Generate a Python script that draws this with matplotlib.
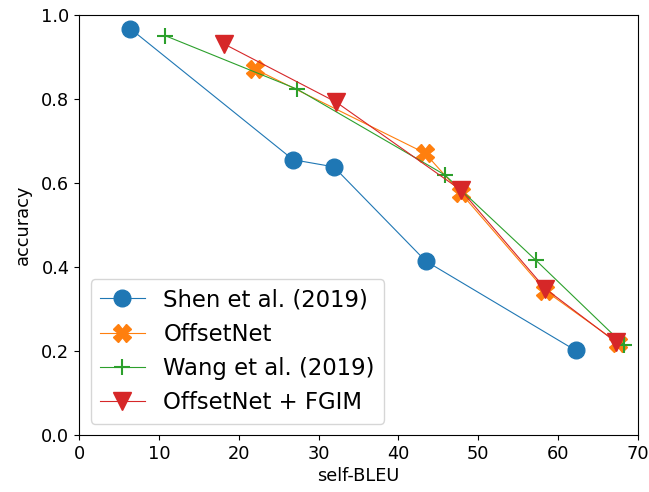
import matplotlib
matplotlib.use('Agg')
import matplotlib.pyplot as plt

# self-BLEU vs. accuracy for each method
shen_bleu = [6.4, 26.8, 31.9, 43.4, 62.2]
shen_acc = [0.967, 0.655, 0.638, 0.414, 0.201]

offset_bleu = [22.0, 43.3, 47.8, 58.4, 67.5]
offset_acc = [0.871, 0.671, 0.576, 0.343, 0.219]

wang_bleu = [10.8, 27.3, 45.8, 57.2, 68.3]
wang_acc = [0.950, 0.823, 0.619, 0.416, 0.213]

fgim_bleu = [18.1, 32.2, 47.8, 58.4, 67.3]
fgim_acc = [0.931, 0.792, 0.583, 0.348, 0.220]

fig, ax = plt.subplots(figsize=(6.49, 4.92), dpi=100)
fig.subplots_adjust(left=0.122, right=0.983, top=0.970, bottom=0.116)

ax.plot(shen_bleu, shen_acc, marker='o', markersize=12, linewidth=0.8,
        color='tab:blue', label='Shen et al. (2019)')
ax.plot(offset_bleu, offset_acc, marker='X', markersize=12.5, linewidth=0.8,
        color='tab:orange', label='OffsetNet')
ax.plot(wang_bleu, wang_acc, marker='+', markersize=11, markeredgewidth=1.5,
        linewidth=0.8, color='tab:green', label='Wang et al. (2019)')
ax.plot(fgim_bleu, fgim_acc, marker='v', markersize=13, linewidth=0.8,
        color='tab:red', label='OffsetNet + FGIM')

ax.set_xlim(0, 70)
ax.set_ylim(0, 1.0)
ax.set_xlabel('self-BLEU', fontsize=12.8, labelpad=3)
ax.set_ylabel('accuracy', fontsize=12.8, labelpad=7)
ax.tick_params(labelsize=12.8)
ax.legend(loc='lower left', fontsize=16.4)

plt.savefig('out.png')
